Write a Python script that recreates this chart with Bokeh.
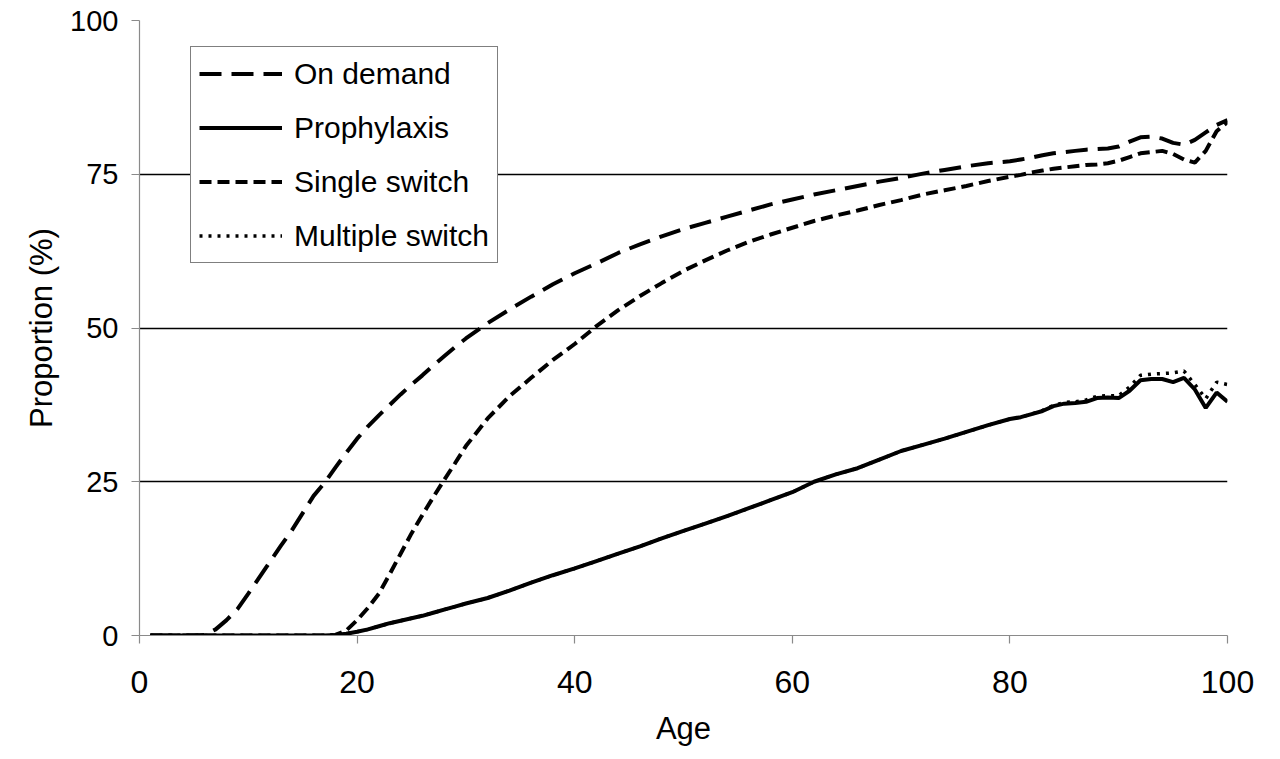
from bokeh.plotting import figure
from bokeh.models import Legend, LegendItem, FixedTicker, ColumnDataSource
from bokeh.embed import file_html
from bokeh.resources import INLINE

ages = [1, 5, 6, 7, 8, 9, 10, 11, 12, 13, 14, 15, 16, 17, 18, 19, 20, 21, 22, 23, 24,
        25, 26, 27, 28, 29, 30, 32, 34, 36, 38, 40, 42, 44, 46, 48, 50, 52, 54, 56, 58,
        60, 62, 64, 66, 68, 70, 72, 74, 76, 78, 80, 81, 82, 83, 84, 85, 86, 87, 88, 89,
        90, 91, 92, 93, 94, 95, 96, 97, 98, 99, 100]

on_demand = [0, 0, 0.1, 1.0, 2.5, 4.3, 6.8, 9.4, 12.0, 14.6, 17.1, 19.9, 22.7, 24.8, 27.3, 29.7, 32,
             34.0, 35.8, 37.5, 39.2, 40.8, 42.3, 43.9, 45.4, 46.9, 48.3, 50.8, 53, 55.1, 57.1,
             58.9, 60.5, 62.2, 63.6, 64.9, 66.1, 67.1, 68.1, 69.1, 70.1, 70.9, 71.7, 72.4,
             73.1, 73.8, 74.4, 75.1, 75.7, 76.3, 76.8, 77.1, 77.4, 77.7, 78.1, 78.4, 78.6,
             78.8, 79.0, 79.1, 79.2, 79.5, 80.3, 81.0, 81.1, 80.8, 80.1, 79.8, 80.6, 81.8,
             83.0, 83.8]

prophylaxis = [0, 0, 0, 0, 0, 0, 0, 0, 0, 0, 0, 0, 0, 0, 0.1, 0.3, 0.6, 1.0, 1.5, 2.0,
               2.4, 2.8, 3.2, 3.7, 4.2, 4.7, 5.2, 6.1, 7.3, 8.6, 9.8, 10.9, 12.1, 13.3, 14.5,
               15.8, 17.0, 18.2, 19.4, 20.7, 22.0, 23.3, 25.0, 26.2, 27.2, 28.6, 30.0, 31.0,
               32.0, 33.1, 34.2, 35.2, 35.5, 36.0, 36.5, 37.3, 37.7, 37.8, 38.0, 38.6, 38.7,
               38.6, 39.8, 41.5, 41.7, 41.7, 41.2, 41.9, 40.0, 37.0, 39.5, 38.0]

single_switch = [0, 0, 0, 0, 0, 0, 0, 0, 0, 0, 0, 0, 0, 0, 0.1, 0.8, 2.5, 4.5, 6.8, 10.0,
                 13.3, 16.6, 19.6, 22.5, 25.3, 28.0, 30.8, 35.3, 38.9, 41.9, 44.8, 47.4, 50.3,
                 52.9, 55.2, 57.3, 59.3, 61.0, 62.6, 64.0, 65.2, 66.3, 67.4, 68.3, 69.1, 70.0,
                 70.8, 71.7, 72.4, 73.1, 73.9, 74.6, 74.9, 75.3, 75.6, 75.9, 76.1, 76.3, 76.5,
                 76.6, 76.8, 77.2, 77.8, 78.4, 78.6, 78.8, 78.3, 77.4, 76.9, 78.8, 82.0, 83.5]

multiple_switch = [0, 0, 0, 0, 0, 0, 0, 0, 0, 0, 0, 0, 0, 0, 0.1, 0.3, 0.6, 1.0, 1.5, 2.0,
                   2.4, 2.8, 3.2, 3.7, 4.2, 4.7, 5.2, 6.1, 7.3, 8.6, 9.8, 10.9, 12.1, 13.3,
                   14.5, 15.8, 17.0, 18.2, 19.4, 20.7, 22.0, 23.3, 25.0, 26.2, 27.2, 28.6,
                   30.0, 31.0, 32.0, 33.1, 34.2, 35.2, 35.5, 36.0, 36.6, 37.4, 37.9, 38.0,
                   38.3, 38.9, 39.0, 39.0, 40.4, 42.3, 42.5, 42.6, 42.7, 43.0, 40.8, 38.5,
                   41.2, 40.8]

x_ticks = [0, 20, 40, 60, 80, 100]
y_ticks = [0, 25, 50, 75, 100]

FONT = "Liberation Sans"

src = ColumnDataSource(dict(age=ages, od=on_demand, pr=prophylaxis,
                            ss=single_switch, ms=multiple_switch))

p = figure(width=1264, height=758, output_backend="svg", toolbar_location=None,
           x_range=(0, 100), y_range=(0, 100),
           min_border_left=139, min_border_right=37, min_border_top=20,
           min_border_bottom=123)
p.outline_line_color = None
p.background_fill_color = "white"

r_od = p.line("age", "od", source=src, line_color="black", line_width=4,
              line_dash="22 10")
r_ss = p.line("age", "ss", source=src, line_color="black", line_width=4,
              line_dash="12 6")
r_ms = p.line("age", "ms", source=src, line_color="black", line_width=3.5,
              line_dash="3 6")
r_pr = p.line("age", "pr", source=src, line_color="black", line_width=4)

p.xgrid.grid_line_color = None
p.ygrid.ticker = FixedTicker(ticks=[25, 50, 75, 100])
p.ygrid.grid_line_color = "black"
p.ygrid.grid_line_width = 1.6

p.xaxis.ticker = FixedTicker(ticks=x_ticks)
p.yaxis.ticker = FixedTicker(ticks=y_ticks)
for ax in (p.xaxis, p.yaxis):
    ax.axis_line_color = "#8a8a8a"
    ax.axis_line_width = 1.2
    ax.major_tick_line_color = "#8a8a8a"
    ax.major_tick_line_width = 1.2
    ax.major_tick_in = 0
    ax.major_tick_out = 8
    ax.minor_tick_line_color = None
    ax.major_label_text_font = FONT
    ax.major_label_text_color = "black"
    ax.axis_label_text_font = FONT
    ax.axis_label_text_font_style = "normal"
    ax.axis_label_text_color = "black"
    ax.axis_label_text_font_size = "31px"

p.xaxis.major_label_text_font_size = "32px"
p.yaxis.major_label_text_font_size = "29px"
p.xaxis.major_label_standoff = 27
p.yaxis.major_label_standoff = 13
p.xaxis.axis_label = "Age"
p.yaxis.axis_label = "Proportion (%)"
p.xaxis.axis_label_standoff = 15
p.yaxis.axis_label_standoff = 8

legend = Legend(items=[
    LegendItem(label="On demand", renderers=[r_od]),
    LegendItem(label="Prophylaxis", renderers=[r_pr]),
    LegendItem(label="Single switch", renderers=[r_ss]),
    LegendItem(label="Multiple switch", renderers=[r_ms]),
], location=(51, 372))
legend.label_text_font = FONT
legend.label_text_font_size = "30px"
legend.label_text_color = "black"
legend.glyph_width = 83
legend.glyph_height = 37
legend.label_height = 37
legend.label_standoff = 12
legend.spacing = 17
legend.padding = 8
legend.margin = 0
legend.border_line_color = "black"
legend.border_line_width = 1.6
legend.background_fill_color = "white"
legend.background_fill_alpha = 1
p.add_layout(legend, "center")

open("out.html", "w").write(file_html(p, INLINE))
